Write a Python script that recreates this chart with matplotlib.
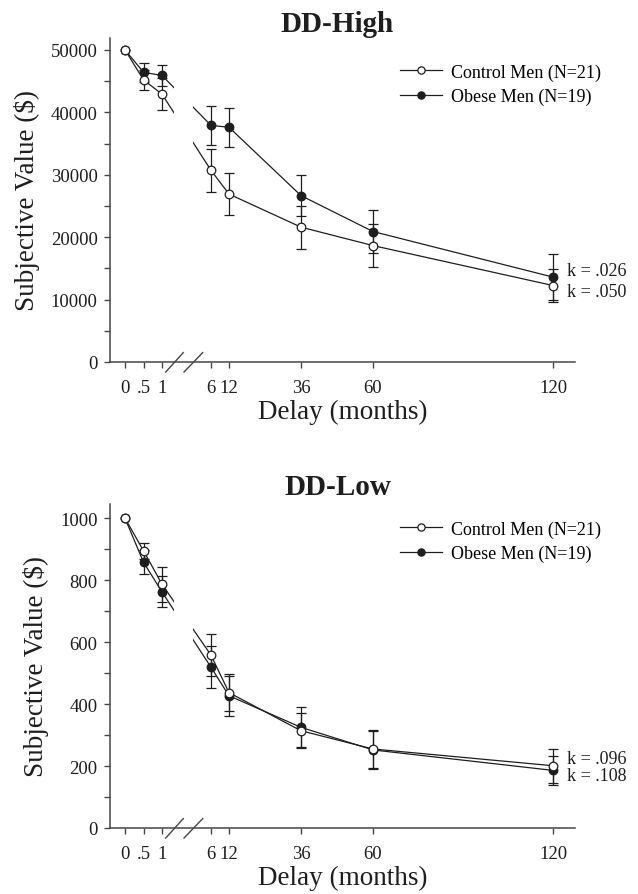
import numpy as np
import matplotlib
matplotlib.use('Agg')
import matplotlib.pyplot as plt
import matplotlib.transforms as mtransforms
from matplotlib.lines import Line2D

plt.rcParams['font.family'] = ['Liberation Serif', 'DejaVu Serif']

# ---- data ----
delays = [0, 0.5, 1, 6, 12, 36, 60, 120]
tick_labels = ['0', '.5', '1', '6', '12', '36', '60', '120']

high_control = [50000, 45200, 42900, 30700, 26900, 21600, 18650, 12250]
high_control_err = [0, 1600, 2600, 3450, 3400, 3450, 3450, 2700]
high_obese = [50000, 46400, 45900, 37900, 37600, 26650, 20900, 13600]
high_obese_err = [0, 1500, 1700, 3100, 3150, 3300, 3450, 3650]

low_control = [1000, 895, 787, 558, 437, 314, 255, 201]
low_control_err = [0, 26, 57, 68, 60, 57, 60, 55]
low_obese = [1000, 858, 762, 519, 427, 325, 252, 186]
low_obese_err = [0, 38, 50, 67, 65, 65, 60, 46]

k_high = {'control': '.050', 'obese': '.026'}
k_low = {'control': '.096', 'obese': '.108'}

legend_labels = ['Control Men (N=21)', 'Obese Men (N=19)']

# broken x axis: 0-1 stretched, 1-6 squeezed (hidden), 6-120 linear
brk_d = np.array([-10.0, 1.0, 6.0, 1000.0])
brk_p = np.array([-370.0, 37.0, 86.0, 86.0 + 3 * 994.0])


def fwd(d):
    return np.interp(d, brk_d, brk_p)


def inv(p):
    return np.interp(p, brk_p, brk_d)


INK = '#1e1e1e'
SPINE = '#474747'


def panel(ax, title, ctrl, ctrl_err, obese, obese_err, ymax, major, minor, title_y):
    ax.set_xscale('function', functions=(fwd, inv))
    ax.set_xlim(inv(-15), inv(450))
    ax.set_ylim(0, ymax)

    kw = dict(color=INK, lw=0.9, ms=6.2, capsize=3.6, elinewidth=0.9,
              capthick=0.9, errorevery=(1, 1), mec=INK, mew=0.9)
    ax.errorbar(delays, obese, yerr=obese_err, fmt='-o', mfc=INK, **kw)
    ax.errorbar(delays, ctrl, yerr=ctrl_err, fmt='-o', mfc='white', **kw)

    # hide the lines inside the axis break
    ax.axvspan(inv(49), inv(68), color='white', zorder=2.2, lw=0)

    # break marks on the x axis
    tr = mtransforms.blended_transform_factory(ax.transData, ax.transAxes)
    for p0, p1 in [(40.7, 58.3), (59.0, 77.7)]:
        ax.plot([inv(p0), inv(p1)], [-0.031, 0.029], color=SPINE, lw=1.0,
                transform=tr, clip_on=False, zorder=3)

    for s in ['top', 'right']:
        ax.spines[s].set_visible(False)
    for s in ['left', 'bottom']:
        ax.spines[s].set_color(SPINE)
        ax.spines[s].set_linewidth(1.1)

    ax.set_xticks(delays)
    ax.set_xticklabels(tick_labels)
    ax.set_xticks([], minor=True)
    ax.set_yticks(np.arange(0, ymax, major))
    ax.set_yticks(np.arange(minor, ymax, major), minor=True)
    ax.tick_params(axis='both', which='both', direction='out', length=4.5,
                   width=1.0, color=SPINE, labelsize=13.5, labelcolor=INK)
    ax.tick_params(axis='y', pad=4.5)
    ax.tick_params(axis='x', pad=8)

    ax.set_xlabel('Delay (months)', fontsize=19.5, color=INK, labelpad=2)
    ax.set_ylabel('Subjective Value ($)', fontsize=19.5, color=INK, labelpad=8)
    ax.text(0.5 - 5 / 465, title_y, title, transform=ax.transAxes, ha='center',
            va='baseline', fontsize=21, fontweight='bold', color=INK)

    handles = [Line2D([], [], color=INK, lw=0.9, marker='o', ms=5.2,
                      mfc='white', mec=INK, mew=0.9),
               Line2D([], [], color=INK, lw=0.9, marker='o', ms=5.2,
                      mfc=INK, mec=INK, mew=0.9)]
    return handles


def k_labels(ax, ctrl, obese, k):
    hi, lo = ('obese', 'control') if obese[-1] > ctrl[-1] else ('control', 'obese')
    vals = {'control': ctrl[-1], 'obese': obese[-1]}
    ax.annotate('k = ' + k[hi], xy=(delays[-1], vals[hi]), xytext=(10, 5.0),
                textcoords='offset points', va='center', fontsize=13, color=INK)
    ax.annotate('k = ' + k[lo], xy=(delays[-1], vals[lo]), xytext=(10, -4.0),
                textcoords='offset points', va='center', fontsize=13, color=INK)


fig = plt.figure(figsize=(6.38, 8.95), dpi=100)
W, H = 638.0, 895.0
ax1 = fig.add_axes([110 / W, 1 - 363 / H, 465 / W, 324 / H])
ax2 = fig.add_axes([110 / W, 1 - 829 / H, 465 / W, 324 / H])

leg_kw = dict(loc='upper left', frameon=False, fontsize=13, handlelength=2.3,
              handletextpad=0.5, labelspacing=0.4, borderpad=0, borderaxespad=0)

h = panel(ax1, 'DD-High', high_control, high_control_err, high_obese,
          high_obese_err, 51900, 10000, 5000, 1.022)
ax1.legend(h, legend_labels, bbox_to_anchor=(0.624, 0.922), **leg_kw)
k_labels(ax1, high_control, high_obese, k_high)

h = panel(ax2, 'DD-Low', low_control, low_control_err, low_obese,
          low_obese_err, 1046, 200, 100, 1.031)
ax2.legend(h, legend_labels, bbox_to_anchor=(0.624, 0.950), **leg_kw)
k_labels(ax2, low_control, low_obese, k_low)

fig.savefig('out.png', dpi=100)
